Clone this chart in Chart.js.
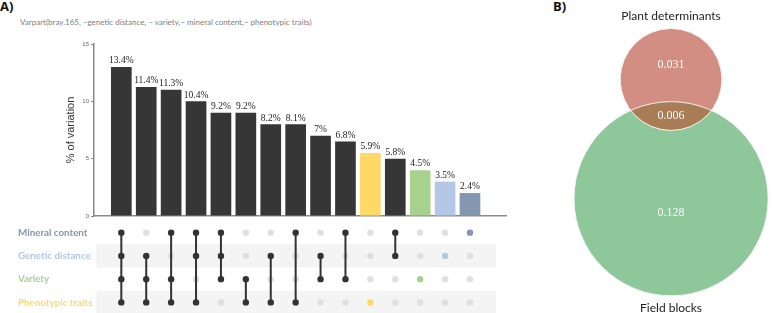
<!DOCTYPE html>
<html>
<head>
<meta charset="utf-8">
<script src="https://cdn.jsdelivr.net/npm/chart.js@4.4.1/dist/chart.umd.min.js"></script>
<style>
  body { margin: 0; background: #fff; width: 774px; height: 313px; position: relative; overflow: hidden; }
  canvas, .txt { position: absolute; }
  .txt { white-space: nowrap; }
</style>
</head>
<body>
<div class="txt" style="left:0;top:-3px;font:bold 13px 'Open Sans';color:#111">A)</div>
<div class="txt" style="left:20px;top:17px;font:8px Lato;color:#808080">Varpart(bray.165, ~genetic distance, ~ variety,~ mineral content,~ phenotypic traits)</div>
<div class="txt" style="left:553px;top:-3px;font:bold 13px 'Open Sans';color:#111">B)</div>
<canvas id="bars" width="520" height="222" style="left:0;top:0"></canvas>
<canvas id="matrix" width="520" height="102" style="left:0;top:216px"></canvas>
<canvas id="venn" width="274" height="313" style="left:500px;top:0"></canvas>
<script>
Chart.defaults.animation = false;
Chart.defaults.font.family = 'Lato';

// sets shown in the matrix, top to bottom
const setNames = ['Mineral content', 'Genetic distance', 'Variety', 'Phenotypic traits'];
const setColors = ['#8497b0', '#b4c7e7', '#a9d18e', '#ffd966'];

// each column of the upset plot = one combination of sets
const combos = [
  ['Mineral content', 'Genetic distance', 'Variety', 'Phenotypic traits'],
  ['Genetic distance', 'Variety', 'Phenotypic traits'],
  ['Mineral content', 'Variety', 'Phenotypic traits'],
  ['Mineral content', 'Genetic distance', 'Phenotypic traits'],
  ['Mineral content', 'Genetic distance', 'Variety'],
  ['Variety', 'Phenotypic traits'],
  ['Genetic distance', 'Phenotypic traits'],
  ['Mineral content', 'Phenotypic traits'],
  ['Genetic distance', 'Variety'],
  ['Mineral content', 'Variety'],
  ['Phenotypic traits'],
  ['Mineral content', 'Genetic distance'],
  ['Variety'],
  ['Genetic distance'],
  ['Mineral content']
];
// bar heights as drawn, and the labels printed above them
const barHeights = [13, 11.25, 11, 10, 9, 9, 8, 8, 7, 6.5, 5.5, 5, 4, 3, 2];
const barLabels = ['13.4%', '11.4%', '11.3%', '10.4%', '9.2%', '9.2%', '8.2%', '8.1%', '7%', '6.8%', '5.9%', '5.8%', '4.5%', '3.5%', '2.4%'];

// Venn (panel B)
const vennNames = ['Field blocks', 'Plant determinants'];
const vennOnly = [0.128, 0.031];
const vennShared = 0.006;
const vennColors = ['#8dc79a', '#d38e83'];
const vennLensColor = '#a87c54';
const vennCenterY = [0, 0.254];

const darkBar = '#363636';
const barColors = combos.map(c => c.length === 1 ? setColors[setNames.indexOf(c[0])] : darkBar);

// ---- bar chart ----
const barLabelPlugin = {
  id: 'barLabels',
  afterDatasetsDraw(chart) {
    const ctx = chart.ctx;
    const meta = chart.getDatasetMeta(0);
    ctx.save();
    ctx.font = '9.5px "Liberation Serif"';
    ctx.fillStyle = '#222';
    ctx.textAlign = 'center';
    ctx.textBaseline = 'bottom';
    meta.data.forEach((bar, i) => ctx.fillText(barLabels[i], bar.x, bar.y - 1.5));
    ctx.restore();
  }
};

new Chart(document.getElementById('bars'), {
  type: 'bar',
  data: {
    datasets: [{
      data: barHeights.map((v, i) => ({ x: i, y: v })),
      backgroundColor: barColors,
      barPercentage: 0.83,
      categoryPercentage: 1
    }]
  },
  options: {
    responsive: false,
    layout: { padding: { top: 44, right: 14, left: 0, bottom: 0 } },
    plugins: { legend: { display: false }, tooltip: { enabled: false } },
    scales: {
      x: {
        type: 'linear', min: -1.097, max: 15.446, offset: false,
        ticks: { display: false },
        grid: { display: false },
        border: { color: '#8a8a8a', width: 1.5 },
        afterFit(s) { s.height = 6; }
      },
      y: {
        min: 0, max: 15,
        ticks: { stepSize: 5, font: { size: 6, family: 'Liberation Sans' }, color: '#666', padding: 2 },
        grid: { drawOnChartArea: false, tickLength: 3, color: '#888' },
        border: { color: '#8a8a8a', width: 1.5 },
        title: { display: true, text: '% of variation', font: { size: 11, family: 'Liberation Sans' }, color: '#333', padding: { top: 64 } },
        afterFit(s) { s.width = 94; s.paddingTop = 0; s.paddingBottom = 0; }
      }
    }
  },
  plugins: [barLabelPlugin]
});

// ---- matrix ----
const filledPts = [], filledColors = [], emptyPts = [], linePts = [];
combos.forEach((c, i) => {
  setNames.forEach((s, k) => {
    if (c.includes(s)) {
      filledPts.push({ x: i, y: s });
      filledColors.push(c.length === 1 ? setColors[k] : '#333');
    } else {
      emptyPts.push({ x: i, y: s });
    }
  });
  if (c.length > 1) linePts.push({ x: i, y: c[0] }, { x: i, y: c[c.length - 1] }, { x: i, y: null });
});

const bandPlugin = {
  id: 'bands',
  beforeDatasetsDraw(chart) {
    const { ctx, scales: { x, y } } = chart;
    const step = y.getPixelForValue(1) - y.getPixelForValue(0);
    const x0 = x.getPixelForValue(-1), x1 = x.getPixelForValue(15.05);
    ctx.save();
    ctx.fillStyle = '#f4f4f4';
    setNames.forEach((s, k) => {
      if (k % 2 === 1) {
        const yc = y.getPixelForValue(k);
        ctx.fillRect(x0, yc - step / 2, x1 - x0, step);
      }
    });
    ctx.restore();
  }
};

new Chart(document.getElementById('matrix'), {
  type: 'scatter',
  data: {
    datasets: [
      { data: filledPts, backgroundColor: filledColors, borderWidth: 0, pointRadius: 3.2, order: 1 },
      { data: linePts, showLine: true, spanGaps: false, borderColor: '#333', borderWidth: 2, pointRadius: 0, order: 2 },
      { data: emptyPts, backgroundColor: '#e0e0e0', borderWidth: 0, pointRadius: 3.2, order: 3 }
    ]
  },
  options: {
    responsive: false,
    layout: { padding: { left: 18, right: 14, top: 5, bottom: 0 } },
    plugins: { legend: { display: false }, tooltip: { enabled: false } },
    scales: {
      x: { type: 'linear', min: -1.097, max: 15.446, offset: false, display: false },
      y: {
        type: 'category', labels: setNames, offset: true,
        grid: { display: false }, border: { display: false },
        ticks: { crossAlign: 'far', color: ctx => setColors[ctx.index], font: { family: 'Lato', size: 9.8, weight: 'bold' } },
        afterFit(s) { s.width = 76; s.paddingTop = 0; s.paddingBottom = 0; }
      }
    }
  },
  plugins: [bandPlugin]
});

// ---- venn ----
const vennRadius = vennOnly.map(v => Math.sqrt((v + vennShared) / Math.PI));
const radiusPx = ctx => {
  const s = ctx.chart.scales.x;
  return s.getPixelForValue(vennRadius[ctx.dataIndex]) - s.getPixelForValue(0);
};

const vennPlugin = {
  id: 'vennParts',
  afterDatasetsDraw(chart) {
    const ctx = chart.ctx;
    const [big, small] = chart.getDatasetMeta(0).data;
    const rb = big.options.radius, rs = small.options.radius;
    ctx.save();
    ctx.beginPath();
    ctx.arc(small.x, small.y, rs, 0, Math.PI * 2);
    ctx.clip();
    ctx.beginPath();
    ctx.arc(big.x, big.y, rb, 0, Math.PI * 2);
    ctx.fillStyle = vennLensColor;
    ctx.fill();
    ctx.strokeStyle = '#f2f2f2';
    ctx.lineWidth = 1;
    ctx.stroke();
    ctx.restore();
    ctx.save();
    ctx.beginPath();
    ctx.arc(small.x, small.y, rs, 0, Math.PI * 2);
    ctx.strokeStyle = '#f2f2f2';
    ctx.lineWidth = 1;
    ctx.stroke();

    ctx.textAlign = 'center';
    ctx.textBaseline = 'middle';
    ctx.fillStyle = '#fff';
    ctx.font = '12px "Liberation Serif"';
    ctx.fillText(String(vennOnly[1]), small.x, (small.y - rs + big.y - rb) / 2);
    ctx.fillText(String(vennShared), small.x, (big.y - rb + small.y + rs) / 2);
    ctx.fillText(String(vennOnly[0]), big.x, (small.y + rs + big.y + rb) / 2);

    ctx.fillStyle = '#222';
    ctx.font = '12px Lato';
    ctx.fillText(vennNames[1], small.x, small.y - rs - 12);
    ctx.fillText(vennNames[0], big.x, big.y + rb + 12);
    ctx.restore();
  }
};

new Chart(document.getElementById('venn'), {
  type: 'scatter',
  data: {
    datasets: [{
      data: vennCenterY.map(c => ({ x: 0, y: c })),
      backgroundColor: vennColors,
      borderColor: '#f2f2f2',
      borderWidth: 1,
      pointRadius: radiusPx,
      pointHoverRadius: radiusPx,
      clip: false
    }]
  },
  options: {
    responsive: false,
    layout: { padding: 0 },
    plugins: { legend: { display: false }, tooltip: { enabled: false } },
    scales: {
      x: { display: false, min: -0.364, max: 0.219 },
      y: { display: false, min: -0.2433, max: 0.423 }
    }
  },
  plugins: [vennPlugin]
});
</script>
</body>
</html>
